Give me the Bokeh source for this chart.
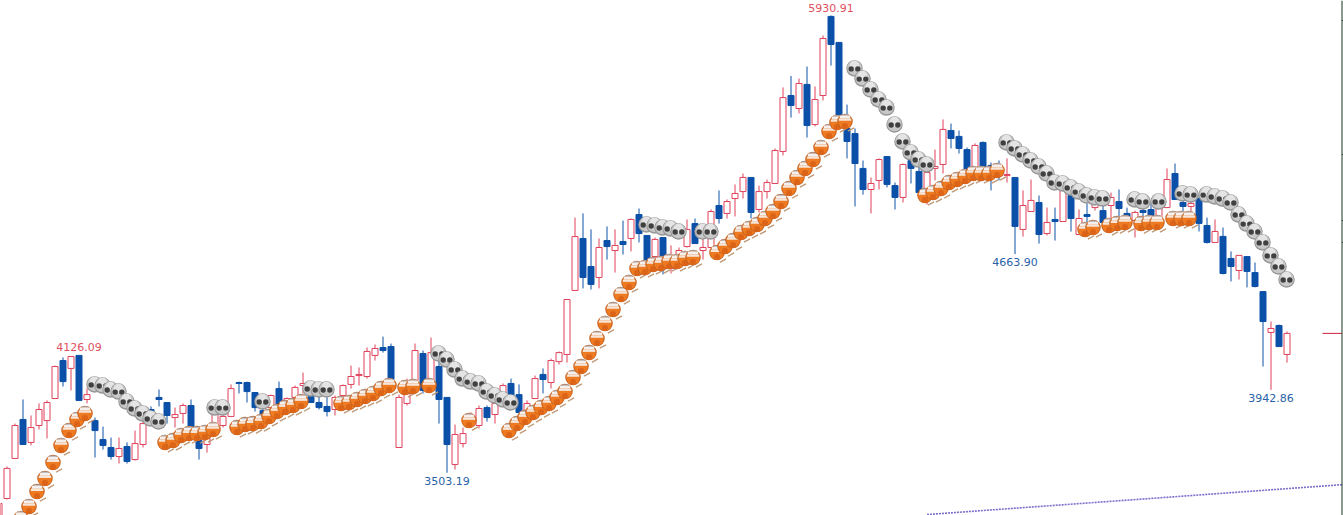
from bokeh.plotting import figure
from bokeh.models import ColumnDataSource, Span
from bokeh.core.properties import value
from bokeh.embed import file_html
from bokeh.resources import INLINE

first_index = -1
opens = [3196,3366,3579,3786,3664,3754,3780,3897,4099,4057,4126,3892,3780,3679,3637,3589,3642,3573,3653,3839,
3903,3876,3796,3818,3860,3674,3653,3754,3754,3802,3982,3982,3929,3833,3849,3950,3849,3903,3966,3908,
3876,3855,3839,3913,3972,4019,4014,4126,4168,4173,3637,3871,3993,4136,3940,4067,3903,3547,3658,3754,
3754,3849,3812,3871,3977,3918,3823,3897,4025,3982,4093,4131,4471,4747,4598,4540,4736,4683,4731,4747,
4874,4763,4651,4752,4588,4662,4704,4826,4683,4699,4922,4880,4959,4996,5071,4901,4996,5039,5209,5506,
5437,5565,5352,5506,5926,5788,5331,5304,5119,5007,5055,5182,5028,4965,5161,5103,5002,5119,5140,5320,
5289,5219,5119,5257,5135,5135,5081,5071,4795,4890,4938,4773,4848,4837,4975,4768,4874,4911,4895,4922,
4943,4880,4842,4895,4901,4858,4911,5092,4938,4917,4959,4816,4726,4758,4641,4577,4651,4566,4465,4248,
4285,4131]
highs = [3340,3536,3764,3892,3807,3871,3887,4072,4115,4120,4126,3950,3796,3748,3690,3690,3664,3727,3780,3855,
3945,3876,3849,3871,3892,3711,3711,3833,3833,3972,3987,3987,3929,3887,3918,3987,3903,3966,4035,3940,
3913,3913,3913,3972,4072,4062,4168,4184,4226,4189,3918,4003,4189,4152,4221,4125,3903,3759,3743,3823,
3860,3860,3903,3977,4003,3972,3887,4019,4057,4109,4147,4423,4858,4880,4795,4747,4811,4795,4842,4853,
4906,4763,4752,4752,4710,4699,4848,4853,4757,4901,5002,4954,5034,5092,5071,5028,5060,5225,5549,5610,
5596,5660,5554,5825,5931,5788,5458,5331,5161,5071,5172,5182,5044,5145,5172,5135,5119,5219,5379,5357,
5320,5230,5252,5262,5150,5161,5172,5071,5002,5060,4975,4911,4911,5039,5018,4901,4933,4959,4922,4991,
5007,4911,4895,4922,4938,4933,5119,5145,5028,5002,4975,4858,4848,4805,4678,4657,4651,4619,4465,4306,
4290,4253]
lows = [3170,3361,3579,3653,3648,3733,3685,3897,3961,3940,3887,3871,3584,3626,3573,3552,3552,3568,3637,3791,
3855,3764,3743,3764,3727,3573,3610,3754,3743,3802,3924,3876,3828,3807,3844,3833,3833,3887,3924,3876,
3839,3802,3807,3903,3950,3966,4003,4099,4141,3998,3637,3860,3982,3924,3940,3764,3503,3520,3637,3743,
3738,3775,3764,3871,3903,3823,3823,3897,3924,3950,4078,4088,4471,4482,4476,4482,4635,4566,4662,4678,
4726,4630,4640,4556,4561,4651,4699,4720,4635,4699,4826,4853,4864,4959,4853,4885,4959,5039,5188,5389,
5411,5283,5342,5480,5665,5373,5172,4917,4980,4880,5007,5018,4901,4938,5039,4975,4927,5055,5092,5225,
5198,5065,5108,5108,5002,5055,5044,4664,4757,4890,4720,4763,4736,4837,4784,4768,4773,4895,4826,4789,
4858,4832,4752,4853,4832,4842,4911,4954,4880,4832,4784,4720,4726,4556,4519,4529,4487,4487,4067,3943,
4173,4088]
closes = [3340,3526,3754,3653,3743,3839,3876,4067,3987,4120,3887,3918,3727,3648,3589,3632,3563,3658,3764,3818,
3892,3807,3812,3860,3748,3632,3685,3818,3802,3950,3977,3934,3849,3812,3913,3865,3897,3956,3977,3876,
3849,3828,3903,3966,4014,4025,4147,4163,4152,3998,3903,3993,4152,3940,4141,3892,3653,3706,3711,3807,
3844,3796,3871,3966,3903,3823,3871,4003,3998,4099,4141,4423,4757,4540,4503,4699,4704,4710,4715,4848,
4773,4630,4742,4646,4641,4683,4795,4720,4699,4890,4853,4943,4986,5071,4885,4996,5044,5214,5495,5453,
5570,5347,5485,5809,5777,5373,5262,5145,5007,5039,5166,5034,4965,5140,5119,4991,5097,5129,5326,5278,
5225,5108,5241,5124,5071,5081,5087,4811,4922,4949,4768,4832,4837,5002,4853,4853,4864,4933,4832,4965,
4906,4853,4885,4885,4869,4911,5060,4954,4917,4933,4827,4726,4784,4561,4598,4657,4572,4492,4306,4269,
4173,4243]

ball_idx = [2,3,4,5,6,7,8,9,10,20,21,22,23,24,25,26,29,30,31,32,33,34,35,36,37,42,43,44,45,46,47,48,50,51,53,58,
63,64,65,66,67,68,69,70,71,72,73,74,75,76,77,78,79,80,81,82,83,84,85,86,89,90,91,92,93,94,95,96,97,98,99,100,
101,102,103,104,105,115,116,117,118,119,120,121,122,123,124,135,136,138,139,140,142,143,144,146,147,148]
ball_val = [3260,3324,3403,3472,3557,3648,3727,3786,3818,3664,3674,3701,3711,3711,3717,3733,3743,3759,3764,3775,3802,3828,3849,3860,3881,3871,3876,3892,3908,3924,3950,3966,3956,3961,3966,3780,
3727,3764,3796,3823,3849,3871,3903,3934,4009,4067,4141,4216,4296,4370,4450,4513,4588,4593,4609,4614,4625,4625,4641,4646,4672,4704,4736,4779,4800,4821,4853,4890,4943,5012,5071,5119,
5166,5230,5315,5363,5368,4975,4991,5012,5044,5060,5076,5092,5092,5092,5108,4795,4805,4816,4826,4832,4826,4832,4832,4853,4853,4853]

skull_idx = [11,12,13,14,15,16,17,18,19,26,27,32,38,39,40,54,55,56,57,58,59,60,61,62,63,80,81,82,83,84,87,88,
106,107,108,109,110,111,112,113,114,115,125,126,127,128,129,130,131,132,133,134,135,136,137,141,142,144,
147,148,150,151,152,153,154,155,156,157,158,159,160]
skull_val = [3972,3966,3945,3934,3881,3844,3818,3791,3775,3849,3849,3881,3950,3945,3945,4136,4104,4051,4003,3987,3977,3934,3913,3892,3876,4821,4816,4805,4800,4784,4784,4784,
5650,5596,5538,5485,5442,5352,5262,5204,5166,5140,5257,5225,5193,5161,5129,5092,5044,5039,5018,4996,4975,4965,4959,4954,4943,4943,
4986,4980,4980,4970,4959,4938,4874,4826,4784,4726,4657,4598,4529]

label_idx = [9, 103, 55, 126, 158]
label_val = [4126.09, 5930.91, 3503.19, 4663.90, 3942.86]
trend_idx = [115, 167]
trend_val = [3281, 3440]
axis_ticks = [5904, 5193, 4842, 4726]

RED, BLUE = "#E0405A", "#0B50A8"
W, H = 1343, 515
X0, X1 = -6.5 / 8, (W - 6.5) / 8
Y0, Y1 = 3276.0, 6010.6
PX, PY = (X1 - X0) / W, (Y1 - Y0) / H

p = figure(width=W, height=H, x_range=(X0, X1), y_range=(Y0, Y1), output_backend="svg",
           toolbar_location=None, x_axis_location=None, y_axis_location=None, min_border=0,
           outline_line_color=None, background_fill_color="white", border_fill_color="white")
p.grid.visible = False
p.styles = {"position": "absolute", "left": "0px", "top": "0px"}

xs = [first_index + k for k in range(len(opens))]
up = [c >= o for o, c in zip(opens, closes)]
src = ColumnDataSource(dict(
    x=xs, high=highs, low=lows,
    top=[max(o, c) for o, c in zip(opens, closes)],
    bottom=[min(o, c) for o, c in zip(opens, closes)],
    color=[RED if u else BLUE for u in up],
    fill=["white" if u else BLUE for u in up],
))
p.segment(x0="x", y0="high", x1="x", y1="low", line_color="color", line_width=1, source=src)
p.vbar(x="x", top="top", bottom="bottom", width=0.75, fill_color="fill", line_color="color", line_width=1, source=src)

# right-hand price scale and last-price marker
p.add_layout(Span(location=X1 - 1.5 * PX, dimension="height", line_color="#17351F", line_width=1))
p.segment(x0=[X1 - 1.5 * PX] * len(axis_ticks), x1=[X1] * len(axis_ticks), y0=axis_ticks, y1=axis_ticks,
          line_color="#17351F", line_width=1)
p.segment(x0=[X1 - 21 * PX], x1=[X1 - 1.5 * PX], y0=[closes[-1]], y1=[closes[-1]], line_color="#D02040", line_width=1)

p.line(trend_idx, trend_val, line_color="#7A70CC", line_width=1.6, line_dash="2 1")

# icons: one glyph, so that each icon's parts stack in drawing order
ic = dict(x=[], y=[], size=[], marker=[], angle=[], fill=[], line=[], lw=[])
def part(i, v, dx, dy, size, fill, marker="circle", angle=0.0, line=None, lw=0.0):
    ic["x"].append(i + dx * PX)
    ic["y"].append(v - dy * PY)
    ic["size"].append(size)
    ic["marker"].append(marker)
    ic["angle"].append(angle)
    ic["fill"].append(fill)
    ic["line"].append(line or fill)
    ic["lw"].append(lw)

def ball(i, v):
    d = -2
    part(i, v, d + 6, 8, 7, "#C09A78", "dash", 0.5, "#C09A78", 1.4)
    part(i, v, d, 0, 15.5, "#C4601E")
    part(i, v, d, 0.3, 13.5, "#EE7A22")
    part(i, v, d, -6.4, 7, "#AEACB0", "dash", 0.0, "#AEACB0", 1.5)
    part(i, v, d, -4.4, 10.5, "#F4F0EE", "dash", 0.0, "#F4F0EE", 3)
    part(i, v, d, -1.8, 12.5, "#F6E6DA", "dash", 0.0, "#F6E6DA", 2.2)
    part(i, v, d, 4.5, 6, "#DC6418")

def skull(i, v):
    d = -0.5
    part(i, v, d, 0, 16.5, "#979797")
    part(i, v, d, -0.5, 14.5, "#C8C8C8")
    part(i, v, d, -3, 9.5, "#E4E4E4")
    part(i, v, d - 3.3, 0.5, 5.4, "#404040")
    part(i, v, d + 3.3, 0.5, 5.4, "#404040")

for i, v in zip(ball_idx, ball_val):
    ball(i, v)
for i, v in zip(skull_idx, skull_val):
    skull(i, v)
p.scatter(x="x", y="y", size="size", marker="marker", angle="angle", fill_color="fill",
          line_color="line", line_width="lw", source=ColumnDataSource(ic))

# extreme labels
is_high = [val >= highs[i - first_index] - 1 for i, val in zip(label_idx, label_val)]
lab = ColumnDataSource(dict(
    x=label_idx, y=label_val, t=[f"{v:.2f}" for v in label_val],
    c=["#E0505F" if h else "#2A62A8" for h in is_high],
    off=[-8 if h else 8 for h in is_high],
))
p.text(x="x", y="y", text="t", text_color="c", y_offset="off", text_align="center", text_baseline="middle",
       text_font=value("DejaVu Sans"), text_font_size="11px", source=lab)

open("out.html", "w").write(file_html(p, INLINE))
